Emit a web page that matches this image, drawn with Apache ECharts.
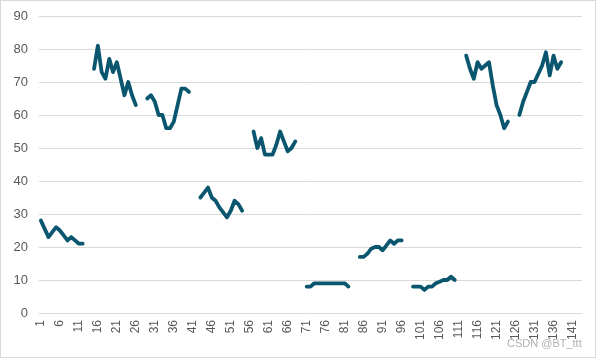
<!DOCTYPE html>
<html><head><meta charset="utf-8">
<script src="https://cdn.jsdelivr.net/npm/echarts@6/dist/echarts.min.js"></script>
<style>html,body{margin:0;padding:0;background:#fff}#c{width:596px;height:358px;box-sizing:border-box;border:1px solid #d9d9d9}</style>
</head><body><div id="c"></div>
<script>
const categoryCount = 143;
const seg1 = [28, 25.5, 23, 24.5, 26, 25, 23.5, 22, 23, 22, 21, 21];
const seg2 = [74, 81, 73, 71, 77, 73, 76, 71, 66, 70, 66, 63];
const seg3 = [65, 66, 64, 60, 60, 56, 56, 58, 63, 68, 68, 67];
const seg4 = [35, 36.5, 38, 35, 34, 32, 30.5, 29, 31, 34, 33, 31];
const seg5 = [55, 50, 53, 48, 48, 48, 51, 55, 52, 49, 50, 52];
const seg6 = [8, 8, 9, 9, 9, 9, 9, 9, 9, 9, 9, 8];
const seg7 = [17, 17, 18, 19.5, 20, 20, 19, 20.5, 22, 21, 22, 22];
const seg8 = [8, 8, 8, 7, 8, 8, 9, 9.5, 10, 10, 11, 10];
const seg9 = [78, 74, 71, 76, 74, 75, 76, 69, 63, 60, 56, 58];
const seg10 = [60, 64, 67, 70, 70, 72.5, 75, 79, 72, 78, 74, 76];
const segments = [seg1, seg2, seg3, seg4, seg5, seg6, seg7, seg8, seg9, seg10];
const categories = [];
for (let i = 1; i <= categoryCount; i++) categories.push(String(i));
const values = [];
segments.forEach((s, k) => { s.forEach(v => values.push(v)); if (k < segments.length - 1) { values.push(null, null); } });
while (values.length < categoryCount) values.push(null);

const chart = echarts.init(document.getElementById('c'));
chart.setOption({
  animation: false,
  grid: {left: 38, right: 13, top: 15, bottom: 44, containLabel: false},
  xAxis: {
    type: 'category', data: categories, boundaryGap: true,
    axisLine: {show: true, lineStyle: {color: '#d9d9d9'}},
    axisTick: {show: false},
    axisLabel: {interval: 4, rotate: 90, color: '#595959', fontSize: 12, fontFamily: 'Liberation Sans', margin: 7}
  },
  yAxis: {
    type: 'value', min: 0, max: 90, interval: 10,
    axisLine: {show: false}, axisTick: {show: false},
    splitLine: {lineStyle: {color: '#d9d9d9', width: 1}},
    axisLabel: {color: '#595959', fontSize: 13, fontFamily: 'Liberation Sans', margin: 11}
  },
  graphic: [{type: 'text', left: 506, top: 337, style: {text: 'CSDN @BT_ttt', fill: 'rgba(150,150,150,0.75)', fontSize: 11, fontFamily: 'Liberation Sans'}}],
  series: [{
    type: 'line', data: values, connectNulls: false, showSymbol: false, symbol: 'none',
    lineStyle: {color: '#0a566f', width: 3.8, cap: 'round', join: 'round'}
  }]
});
</script></body></html>
